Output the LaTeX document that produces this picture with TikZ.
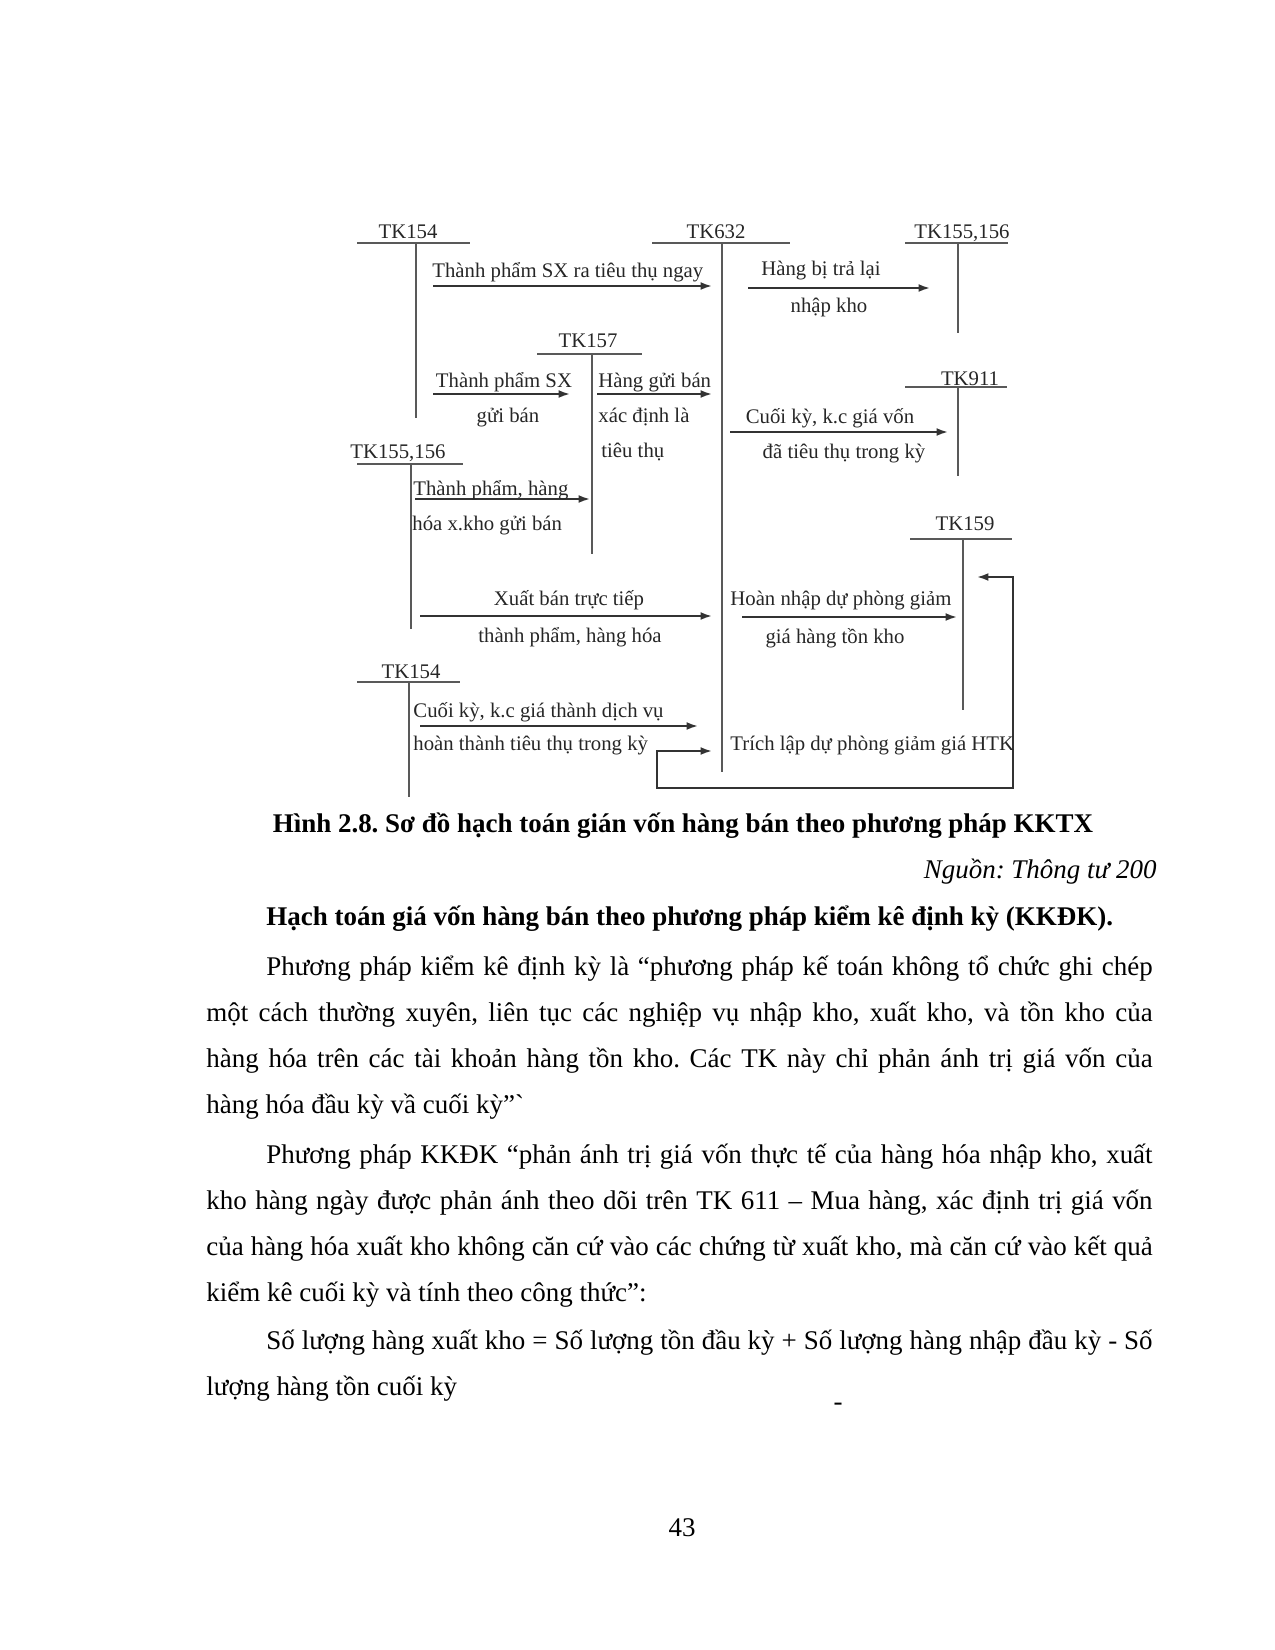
\documentclass[tikz,border=0pt]{standalone}
\usepackage{fontspec}
\setmainfont{Liberation Serif}
\usepackage{xcolor}
\definecolor{acctline}{gray}{0.35}
\definecolor{accttext}{gray}{0.15}
\usetikzlibrary{arrows.meta}
\frenchspacing

\begin{document}
\begin{tikzpicture}[
  x=0.016933cm, y=-0.016933cm,
  acct/.style={draw=acctline, line width=0.9pt},
  arrow/.style={-{Latex[length=5.5pt,width=3.8pt]}, line width=0.9pt, draw=black!80},
  twoway/.style={{Latex[length=5.5pt,width=3.8pt]}-{Latex[length=5.5pt,width=3.8pt]}, line width=0.9pt, draw=black!80},
  lbl/.style={inner sep=0pt, font=\fontsize{10}{12}\selectfont, text=accttext, anchor=base},
  lblw/.style={lbl, anchor=base west},
  body/.style={inner sep=0pt, font=\fontsize{13}{22.3}\selectfont, anchor=base west,
               text width=456pt, align=justify},
]
\useasboundingbox (0,0) rectangle (1275,1650);

% --- T accounts ---
\node[lbl] (tk154a) at (408,238) {TK154};
\draw[acct] (357,243) -- (470,243) (416,243) -- (416,418);

\node[lbl] (tk632) at (716,238) {TK632};
\draw[acct] (652,243) -- (790,243) (722,243) -- (722,772);

\node[lbl] (tk155b) at (962,238) {TK155,156};
\draw[acct] (905,243) -- (1008,243) (958,243) -- (958,333);

\node[lbl] (tk157) at (588,347) {TK157};
\draw[acct] (537,354) -- (642,354) (592,354) -- (592,554);

\node[lbl] (tk911) at (970,385) {TK911};
\draw[acct] (905,387) -- (1007,387) (958,387) -- (958,476);

\node[lbl] (tk155a) at (398,458) {TK155,156};
\draw[acct] (357,464) -- (463,464) (411,464) -- (411,629);

\node[lbl] (tk159) at (965,530) {TK159};
\draw[acct] (910,539) -- (1012,539) (963,539) -- (963,710);

\node[lbl] (tk154b) at (411,678) {TK154};
\draw[acct] (357,682) -- (460,682) (409,682) -- (409,797);

% --- entry points ---
\coordinate (a1_s) at (433,286);  \coordinate (a1_e) at (712,286);
\coordinate (a2_s) at (433,394);  \coordinate (a2_e) at (570,394);
\coordinate (a3_s) at (597,394);  \coordinate (a3_e) at (712,394);
\coordinate (a4_s) at (415,499);  \coordinate (a4_e) at (590,499);
\coordinate (a5_s) at (420,616);  \coordinate (a5_e) at (712,616);
\coordinate (a6_s) at (420,726);  \coordinate (a6_e) at (698,726);
\coordinate (a7_s) at (748,288);  \coordinate (a7_e) at (930,288);
\coordinate (a8_s) at (730,432);  \coordinate (a8_e) at (948,432);
\coordinate (a9_s) at (742,617);  \coordinate (a9_e) at (957,617);
\coordinate (loop_in) at (977,577);
\coordinate (loop_r) at (1013,788);
\coordinate (loop_l) at (657,751);
\coordinate (loop_out) at (712,751);

% --- entries ---
\draw[arrow] (a1_s) -- (a1_e);
\node[lblw] (t1) at (432,277) {Thành phẩm SX ra tiêu thụ ngay};

\draw[arrow] (a2_s) -- (a2_e);
\node[lbl] (t2a) at (504,387) {Thành phẩm SX};
\node[lbl] (t2b) at (508,422) {gửi bán};

\draw[arrow] (a3_s) -- (a3_e);
\node[lblw] (t3a) at (598,387) {Hàng gửi bán};
\node[lblw] (t3b) at (598,422) {xác định là};
\node[lblw] (t3c) at (601,457) {tiêu thụ};

\draw[arrow] (a4_s) -- (a4_e);
\node[lblw] (t4a) at (413,495) {Thành phẩm, hàng};
\node[lblw] (t4b) at (412,530) {hóa x.kho gửi bán};

\draw[arrow] (a5_s) -- (a5_e);
\node[lbl] (t5a) at (569,605) {Xuất bán trực tiếp};
\node[lbl] (t5b) at (570,642) {thành phẩm, hàng hóa};

\draw[arrow] (a6_s) -- (a6_e);
\node[lblw] (t6a) at (413,717) {Cuối kỳ, k.c giá thành dịch vụ};
\node[lblw] (t6b) at (413,750) {hoàn thành tiêu thụ trong kỳ};

\draw[arrow] (a7_s) -- (a7_e);
\node[lbl] (t7a) at (821,275) {Hàng bị trả lại};
\node[lbl] (t7b) at (829,312) {nhập kho};

\draw[arrow] (a8_s) -- (a8_e);
\node[lbl] (t8a) at (830,423) {Cuối kỳ, k.c giá vốn};
\node[lbl] (t8b) at (844,458) {đã tiêu thụ trong kỳ};

\draw[arrow] (a9_s) -- (a9_e);
\node[lblw] (t9a) at (730,605) {Hoàn nhập dự phòng giảm};
\node[lbl] (t9b) at (835,643) {giá hàng tồn kho};

\draw[twoway] (loop_in) -| (loop_r) -| (loop_l) -- (loop_out);
\node[lblw] (t10) at (730,750) {Trích lập dự phòng giảm giá HTK};

% --- caption and text ---
\node[inner sep=0pt, anchor=base, font=\bfseries\fontsize{13}{15}\selectfont] (cap) at (683,832)
  {Hình 2.8. Sơ đồ hạch toán gián vốn hàng bán theo phương pháp KKTX};
\node[inner sep=0pt, anchor=base east, font=\itshape\fontsize{13}{15}\selectfont] (src) at (1157,878)
  {Nguồn: Thông tư 200};
\node[inner sep=0pt, anchor=base west, font=\bfseries\fontsize{13}{15}\selectfont] (head) at (266,925)
  {Hạch toán giá vốn hàng bán theo phương pháp kiểm kê định kỳ (KKĐK).};

\node[body] (par1) at (206,975)
  {\hspace*{28.9pt}Phương pháp kiểm kê định kỳ là “phương pháp kế toán không tổ chức ghi chép\linebreak
   một cách thường xuyên, liên tục các nghiệp vụ nhập kho, xuất kho, và tồn kho của\linebreak
   hàng hóa trên các tài khoản hàng tồn kho. Các TK này chỉ phản ánh trị giá vốn của\linebreak
   hàng hóa đầu kỳ vầ cuối kỳ”\textasciigrave};
\node[body] (par2) at (206,1163)
  {\hspace*{28.9pt}Phương pháp KKĐK “phản ánh trị giá vốn thực tế của hàng hóa nhập kho, xuất\linebreak
   kho hàng ngày được phản ánh theo dõi trên TK 611 – Mua hàng, xác định trị giá vốn\linebreak
   của hàng hóa xuất kho không căn cứ vào các chứng từ xuất kho, mà căn cứ vào kết quả\linebreak
   kiểm kê cuối kỳ và tính theo công thức”:};
\node[body] (par3) at (206,1349)
  {\hspace*{28.9pt}Số lượng hàng xuất kho = Số lượng tồn đầu kỳ + Số lượng hàng nhập đầu kỳ - Số\linebreak
   lượng hàng tồn cuối kỳ};

\node[inner sep=0pt, font=\fontsize{13}{15}\selectfont] (dash) at (838,1407) {-};
\node[inner sep=0pt, font=\fontsize{13}{15}\selectfont] (pageno) at (682,1528) {43};
\end{tikzpicture}
\end{document}
